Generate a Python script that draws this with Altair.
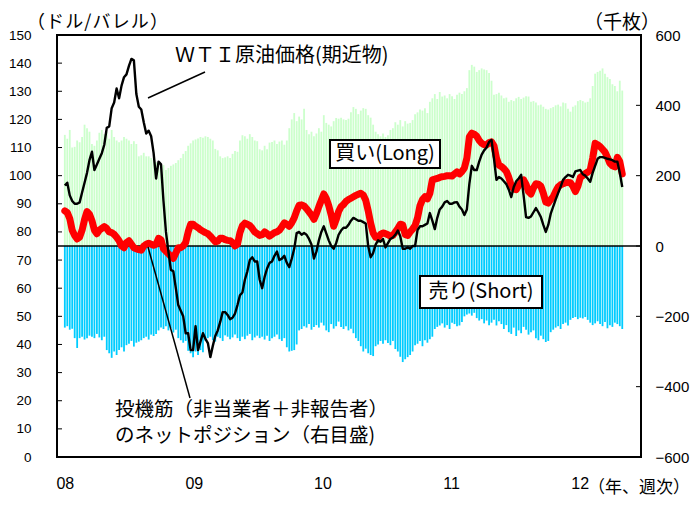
import altair as alt
import pandas as pd

# ---------------- data (weekly, Jan 2008 - Apr 2012) ----------------
weeks = pd.date_range("2008-01-01", periods=227, freq="7D")

# speculators' long positions (thousand contracts, right axis)
long_pos = [
    316, 305, 330, 280, 282, 300, 295, 310, 345, 335,
    325, 290, 285, 300, 322, 330, 318, 325, 305, 330,
    310, 300, 295, 300, 310, 305, 300, 290, 298, 290,
    255, 258, 265, 255, 255, 250, 245, 238, 232, 222,
    230, 216, 222, 228, 232, 236, 244, 250, 262, 270,
    285, 292, 300, 303, 306, 310, 308, 312, 310, 305,
    300, 276, 272, 255, 250, 252, 255, 250, 262, 270,
    268, 300, 315, 312, 305, 318, 310, 300, 298, 275,
    272, 285, 275, 294, 296, 300, 290, 297, 300, 288,
    300, 335, 360, 378, 355, 368, 360, 390, 330, 318,
    325, 312, 320, 335, 325, 372, 350, 345, 340, 355,
    364, 362, 365, 360, 358, 362, 380, 395, 390, 375,
    385, 392, 390, 372, 365, 345, 325, 318, 312, 320,
    310, 315, 330, 335, 352, 345, 358, 340, 355, 348,
    350, 358, 375, 380, 388, 385, 392, 378, 410, 420,
    432, 418, 438, 425, 428, 420, 432, 426, 418, 430,
    436, 432, 440, 449, 500, 515, 510, 495, 500, 505,
    502, 500, 492, 470, 430, 432, 436, 428, 420, 422,
    410, 415, 412, 420, 424, 418, 422, 426, 425, 410,
    412, 408, 400, 402, 396, 390, 388, 392, 395, 400,
    402, 397, 408, 406, 390, 382, 396, 400, 412, 415,
    412, 408, 410, 420, 455, 490, 495, 498, 505, 490,
    480, 475, 460, 455, 440, 470, 442,
]

# speculators' short positions (thousand contracts, right axis)
short_pos = [
    -232, -228, -238, -235, -262, -290, -262, -258, -266, -262,
    -255, -258, -262, -250, -260, -268, -258, -296, -305, -318,
    -300, -310, -296, -288, -300, -282, -278, -270, -286, -275,
    -272, -268, -262, -258, -266, -252, -256, -250, -240, -232,
    -236, -228, -240, -234, -246, -238, -262, -268, -275, -270,
    -298, -305, -316, -300, -310, -296, -302, -270, -262, -258,
    -268, -272, -258, -262, -270, -254, -258, -265, -260, -252,
    -262, -270, -258, -265, -255, -250, -268, -260, -255, -262,
    -258, -266, -255, -270, -262, -258, -252, -265, -270, -262,
    -288, -300, -298, -296, -280, -240, -236, -228, -232, -222,
    -238, -230, -225, -232, -218, -226, -240, -245, -222, -235,
    -228, -215, -230, -236, -228, -240, -235, -248, -262, -270,
    -285, -300, -292, -305, -310, -313, -285, -280, -270, -278,
    -268, -276, -282, -270, -293, -300, -315, -330, -322, -316,
    -310, -300, -282, -278, -270, -285, -268, -275, -265, -258,
    -236, -230, -226, -220, -232, -225, -236, -218, -222, -228,
    -226, -216, -200, -195, -192, -198, -190, -205, -212, -208,
    -220, -212, -225, -218, -210, -226, -214, -222, -236, -225,
    -245, -250, -232, -256, -240, -248, -230, -238, -252, -245,
    -240, -262, -268, -255, -265, -273, -270, -245, -238, -232,
    -228, -236, -222, -218, -226, -210, -205, -202, -208, -204,
    -206, -202, -210, -218, -225, -220, -214, -222, -228, -216,
    -234, -225, -230, -218, -222, -228, -236,
]

# speculators' net position (thousand contracts, right axis)
net_pos = [
    100, 95, 78, 45, 30, 20, 25, 45, 75, 98,
    90, 72, 45, 35, 45, 50, 55, 50, 40, 38,
    33, 25, 15, 0, -5, 10, 15, 5, -5, -8,
    -10, -12, 0, 5, 8, 5, 2, 5, 22, 18,
    -8, -15, -22, -30, -35, -20, -5, -5, 0, 10,
    40, 62, 62, 56, 52, 46, 42, 38, 35, 28,
    20, 12, 14, 22, 22, 18, 16, 15, 10, 0,
    5, 38, 58, 65, 62, 58, 50, 40, 35, 30,
    32, 40, 35, 28, 33, 38, 40, 45, 55, 66,
    62, 56, 66, 80, 100, 116, 117, 114, 106, 97,
    88, 76, 92, 112, 130, 148, 135, 115, 88, 56,
    75, 98, 112, 118, 127, 132, 136, 140, 144, 147,
    150, 145, 130, 100, 65, 37, 25, 24, 33, 37,
    35, 32, 28, 30, 40, 50, 62, 60, 32, 30,
    40, 48, 58, 80, 115, 132, 140, 134, 150, 188,
    190, 192, 195, 197, 198, 200, 200, 199, 205, 211,
    205, 212, 222, 250, 310, 321, 318, 312, 300, 292,
    288, 288, 294, 296, 285, 250, 230, 226, 220, 212,
    195, 172, 162, 160, 172, 182, 188, 175, 155, 148,
    165, 177, 176, 170, 150, 125, 122, 132, 140, 155,
    168, 174, 177, 180, 181, 180, 170, 155, 170, 195,
    200, 206, 210, 216, 250, 292, 288, 283, 275, 267,
    252, 235, 228, 225, 252, 240, 205,
]

# WTI crude oil, front month (USD/barrel, left axis)
wti = [
    96.5, 97.5, 93, 91, 90, 90, 90.5, 94, 97.5, 101,
    105.5, 108.5, 102, 104, 106, 108, 111, 117, 117.5, 124,
    126, 131, 127.5, 132, 135, 136, 139, 141.5, 141, 129,
    124.5, 123.5, 119, 115, 116, 114, 108, 99, 105, 104,
    91, 80, 73, 66.5, 66, 60, 54, 52, 50, 44,
    44, 38, 38, 46.5, 38, 41, 44, 42, 40.5, 35.5,
    39.5, 43, 45, 48, 51.5, 51.5, 50.5, 49, 49.5, 51,
    54, 57.5, 58.5, 63, 66, 70, 71, 69.5, 69.5, 63,
    60, 64, 67, 69, 69.5, 71.5, 73, 70, 70.5, 71.5,
    69, 67.5, 70.5, 74, 79.6, 80, 79, 79.6, 79, 77.5,
    75.5, 70.5, 73, 77, 80, 82, 79.5, 77, 75, 74,
    76, 79, 80.5, 81.5, 81.5, 82.5, 84, 85, 84.5, 84,
    84, 83.5, 83, 75, 71, 72.5, 75.5, 77, 76.5, 77.5,
    74.5, 76, 77.5, 78, 79, 80.5, 78.5, 74, 74, 74.5,
    74, 75, 75, 80.7, 82, 82, 82.5, 83, 86.7, 84,
    81, 85, 88, 89, 90.5, 91, 90, 90, 90.5, 90.6,
    89, 88, 86, 88, 97, 103.5, 102, 102, 105, 107.5,
    109, 110, 112, 112.7, 106, 98.5, 99.5, 99, 98, 97,
    95, 92.4, 96, 98, 99, 100.3, 93, 85.3, 85, 85.5,
    87, 88.5, 87, 85.3, 82.5, 80, 82.5, 86.5, 89, 91.5,
    93.8, 96, 98.5, 99.5, 100.3, 100, 99.5, 101.5, 101.8, 102,
    100.5, 100, 99, 97.8, 101, 103.5, 106, 106.6, 106.6, 106.3,
    106, 105.8, 105.5, 105, 105, 101, 96,
]

left_ticks = list(range(0, 151, 10))
right_ticks = list(range(-600, 601, 200))
year_ticks = [2008, 2009, 2010, 2011, 2012]

df = pd.DataFrame({"date": weeks, "long": long_pos, "short": short_pos,
                   "net": net_pos, "wti": wti})

NUM_FONT = "Liberation Sans, Arial, sans-serif"
JP_FONT = "Noto Sans CJK JP, sans-serif"

W, H = 584, 422

xscale = alt.Scale(domain=[alt.DateTime(year=2007, month=12, date=24),
                           alt.DateTime(year=2012, month=6, date=9)])
xaxis = alt.Axis(values=[alt.DateTime(year=y, month=1, date=1) for y in year_ticks],
                 format="%y", title=None, grid=False, domain=False, ticks=False,
                 tickSize=0, labelFlush=False, labelPadding=18, labelFont=NUM_FONT,
                 labelFontSize=16, labelColor="black", labelAlign="center")
X = alt.X("date:T", scale=xscale, axis=xaxis)

rscale = alt.Scale(domain=[-600, 600], nice=False, zero=False)
raxis = alt.Axis(orient="right", values=right_ticks, title=None, grid=False,
                 domain=False, ticks=False, tickSize=0, labelPadding=14,
                 labelFont=NUM_FONT, labelFontSize=15, labelColor="black")
lscale = alt.Scale(domain=[0, 150], nice=False, zero=False)
laxis = alt.Axis(orient="left", values=left_ticks, title=None, grid=False,
                 domain=False, ticks=False, tickSize=0, labelPadding=26,
                 labelFont=NUM_FONT, labelFontSize=13.5, labelColor="black")

base = alt.Chart(df)

long_bars = base.mark_bar(size=1.8, color="#CCFFCC").encode(
    x=X, y=alt.Y("long:Q", scale=rscale, axis=raxis), y2=alt.datum(0))
short_bars = base.mark_bar(size=1.8, color="#00CCFF").encode(
    x=X, y=alt.Y("short:Q", scale=rscale, axis=raxis), y2=alt.datum(0))
zero_line = alt.Chart(pd.DataFrame({"z": [0]})).mark_rule(
    color="black", strokeWidth=1.5).encode(y=alt.Y("z:Q", scale=rscale, axis=raxis))
net_line = base.mark_line(color="#FF0000", strokeWidth=7, strokeJoin="round",
                          strokeCap="round").encode(
    x=X, y=alt.Y("net:Q", scale=rscale, axis=raxis))
rticks = alt.Chart(pd.DataFrame({"r": right_ticks})).mark_rule(
    color="black", strokeWidth=1).encode(
    y=alt.Y("r:Q", scale=rscale, axis=raxis), x=alt.value(W - 5), x2=alt.value(W))

right_layer = alt.layer(long_bars, short_bars, zero_line, net_line, rticks)

wti_line = base.mark_line(color="black", strokeWidth=2.4, strokeJoin="round").encode(
    x=X, y=alt.Y("wti:Q", scale=lscale, axis=laxis))
lticks = alt.Chart(pd.DataFrame({"l": left_ticks})).mark_rule(
    color="black", strokeWidth=1).encode(
    y=alt.Y("l:Q", scale=lscale, axis=laxis), x=alt.value(0), x2=alt.value(5))


def text(label, x, y, align="left", size=20):
    return alt.Chart(pd.DataFrame({"t": [label]})).mark_text(
        font=JP_FONT, fontSize=size, align=align, baseline="middle", color="black"
    ).encode(text="t:N", x=alt.value(x), y=alt.value(y))


def seg(x1, y1, x2, y2, w=1.5):
    return alt.Chart(pd.DataFrame({"s": [0]})).mark_rule(
        color="black", strokeWidth=w).encode(
        x=alt.value(x1), y=alt.value(y1), x2=alt.value(x2), y2=alt.value(y2))


def box(x1, y1, x2, y2):
    return alt.Chart(pd.DataFrame({"s": [0]})).mark_rect(
        fill="white", stroke="black", strokeWidth=2).encode(
        x=alt.value(x1), y=alt.value(y1), x2=alt.value(x2), y2=alt.value(y2))


HS = "\u200a"
annotations = [
    text("ＷＴＩ原油価格(期近物)", 118, 21),
    seg(91, 63, 148, 37),
    text("投機筋（非当業者＋非報告者）", 58, 375, size=19.5),
    text("のネットポジション（右目盛)", 58, 401, size=19.5),
    seg(91, 212, 133, 363),
    box(273, 105, 383, 133),
    text("買い(Long)", 328, 119, align="center"),
    box(363, 241, 485, 273),
    text("売り(Short)", 424, 257, align="center"),
    text(HS.join("（ドル/バレル）"), -30, -12, size=18),
    text("（千枚）", 527, -12, size=19),
    text("（年、週次）", 531, 453, size=17),
]

left_layer = alt.layer(wti_line, lticks, *annotations)

chart = alt.layer(right_layer, left_layer).resolve_scale(y="independent").properties(
    width=W, height=H,
    padding={"left": 49, "top": 27, "right": 49, "bottom": 44},
    autosize=alt.AutoSizeParams(type="none"),
    background="white",
).configure_view(stroke="black", strokeWidth=2)

chart.save("out.html", embed_options={"renderer": "svg", "actions": False})
